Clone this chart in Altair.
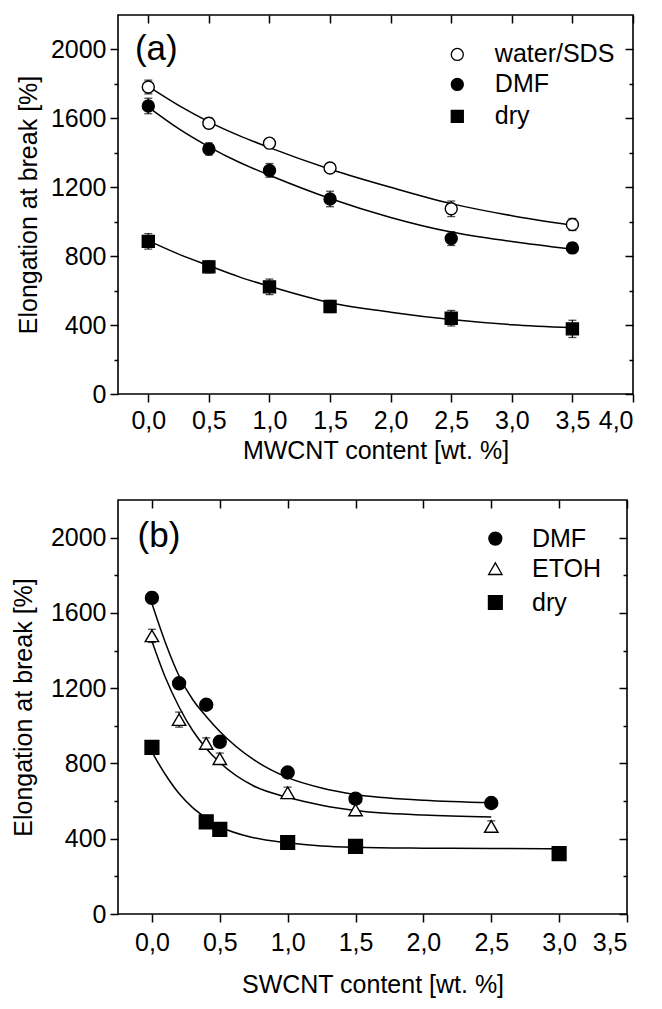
import altair as alt
import pandas as pd

FONT = "Liberation Sans"

# ---------------- Panel (a): MWCNT ----------------
a_series = ["water/SDS", "DMF", "dry"]
a_x = [0.0, 0.5, 1.0, 1.5, 2.5, 3.5]
a_water = [1782, 1572, 1456, 1312, 1075, 984]
a_water_err = [40, 30, 25, 25, 45, 35]
a_dmf = [1672, 1422, 1298, 1132, 902, 848]
a_dmf_err = [45, 35, 40, 45, 40, 30]
a_dry = [886, 738, 622, 508, 440, 378]
a_dry_err = [45, 35, 45, 35, 45, 50]

a_curve_x = [0.0, 0.25, 0.5, 0.75, 1.0, 1.5, 2.0, 2.5, 3.0, 3.5]
a_curve_water = [1785, 1675, 1580, 1500, 1430, 1305, 1200, 1105, 1035, 980]
a_curve_dmf = [1665, 1540, 1435, 1345, 1270, 1135, 1025, 940, 885, 840]
a_curve_dry = [890, 812, 745, 680, 625, 530, 475, 432, 402, 385]

# legend rows of (a), in data units of the panel
a_leg_sym_x = 2.55
a_leg_txt_x = 2.86
a_leg_y = [1971, 1797, 1612]

# ---------------- Panel (b): SWCNT ----------------
b_series = ["DMF", "ETOH", "dry"]
b_x = [0.0, 0.2, 0.4, 0.5, 1.0, 1.5, 2.5]
b_dmf = [1680, 1226, 1112, 915, 752, 613, 590]
b_dmf_err = [30, 25, 20, 20, 25, 25, 20]
b_etoh = [1478, 1033, 906, 825, 644, 553, 465]
b_etoh_err = [35, 40, 30, 30, 30, 30, 30]
b_dry_x = [0.0, 0.4, 0.5, 1.0, 1.5, 3.0]
b_dry = [885, 490, 450, 380, 359, 321]
b_dry_err = [20, 15, 15, 15, 15, 15]

b_curve_x = [0.0, 0.1, 0.2, 0.3, 0.4, 0.5, 0.75, 1.0, 1.25, 1.5, 2.0, 2.5]
b_curve_dmf = [1650, 1440, 1265, 1140, 1050, 970, 820, 725, 670, 635, 605, 592]
b_curve_etoh = [1450, 1255, 1100, 975, 880, 805, 680, 620, 578, 550, 526, 516]
b_curve_dry_x = [0.0, 0.1, 0.2, 0.3, 0.4, 0.5, 0.75, 1.0, 1.25, 1.5, 2.0, 2.5, 3.0]
b_curve_dry = [860, 740, 640, 565, 510, 465, 405, 378, 362, 355, 350, 348, 347]

b_leg_sym_x = 2.53
b_leg_txt_x = 2.80
b_leg_y = [1995, 1835, 1655]

a_xticks = [0.0, 0.5, 1.0, 1.5, 2.0, 2.5, 3.0, 3.5, 4.0]
b_xticks = [0.0, 0.5, 1.0, 1.5, 2.0, 2.5, 3.0, 3.5]
y_major = [0, 400, 800, 1200, 1600, 2000]
y_minor = [200, 600, 1000, 1400, 1800]


def points_df(series, xs_list, ys_list, errs_list):
    rows = []
    for s, xs, ys, es in zip(series, xs_list, ys_list, errs_list):
        for x, y, e in zip(xs, ys, es):
            rows.append({"series": s, "kind": s, "x": x, "y": y, "lo": y - e, "hi": y + e})
    return pd.DataFrame(rows)


def curve_df(series, xs_list, ys_list):
    rows = []
    for s, xs, ys in zip(series, xs_list, ys_list):
        for x, y in zip(xs, ys):
            rows.append({"series": s, "x": x, "y": y})
    return pd.DataFrame(rows)


LABEL_EXPR = "replace(format(datum.value, '.1f'), '.', ',')"


def panel(pts, crv, series, shapes, fills, sizes, leg_sizes, xdom, xticks, xtitle,
          width, height, ytitle_x, xtitle_y, xlabel_pad,
          leg_sym_x, leg_txt_x, leg_y, note, note_x, note_y):
    xs = alt.Scale(domain=xdom, nice=False, zero=False)
    ys = alt.Scale(domain=[0, 2200], nice=False, zero=False)
    shp = alt.Scale(domain=series, range=shapes)
    fil = alt.Scale(domain=series, range=fills)
    base = alt.Chart(pts).mark_point(opacity=0)

    main_axes = base.encode(
        x=alt.X("x:Q", scale=xs, axis=alt.Axis(
            orient="bottom", values=xticks, labelExpr=LABEL_EXPR, title=xtitle,
            tickSize=8, labelPadding=xlabel_pad, titleY=xtitle_y,
            titleBaseline="alphabetic")),
        y=alt.Y("y:Q", scale=ys, axis=alt.Axis(
            orient="left", values=y_major, format="d", title="Elongation at break [%]",
            tickSize=8, labelPadding=4, titleX=ytitle_x, titleBaseline="alphabetic")),
    )
    mirror_axes = base.encode(
        x=alt.X("x:Q", scale=xs, axis=alt.Axis(
            orient="top", values=xticks, labels=False, title=None, tickSize=8, offset=-8)),
        y=alt.Y("y:Q", scale=ys, axis=alt.Axis(
            orient="right", values=y_major, labels=False, title=None, tickSize=8, offset=-8)),
    )
    minor_left = base.encode(
        x=alt.X("x:Q", scale=xs, axis=None),
        y=alt.Y("y:Q", scale=ys, axis=alt.Axis(
            orient="left", values=y_minor, labels=False, title=None, tickSize=4)),
    )
    minor_right = base.encode(
        x=alt.X("x:Q", scale=xs, axis=None),
        y=alt.Y("y:Q", scale=ys, axis=alt.Axis(
            orient="right", values=y_minor, labels=False, title=None, tickSize=4, offset=-4)),
    )

    curves = alt.Chart(crv).mark_line(color="black", strokeWidth=1.5, interpolate="monotone").encode(
        x=alt.X("x:Q", scale=xs, axis=None),
        y=alt.Y("y:Q", scale=ys, axis=None),
        detail="series:N",
    )
    errs = alt.Chart(pts).mark_errorbar(ticks=True, size=8, thickness=1.3, color="black").encode(
        x=alt.X("x:Q", scale=xs, axis=None),
        y=alt.Y("lo:Q", scale=ys, axis=None),
        y2="hi:Q",
    )
    marks = alt.Chart(pts).mark_point(filled=True, stroke="black", strokeWidth=1.4, opacity=1).encode(
        x=alt.X("x:Q", scale=xs, axis=None),
        y=alt.Y("y:Q", scale=ys, axis=None),
        shape=alt.Shape("series:N", scale=shp, legend=None),
        fill=alt.Fill("series:N", scale=fil, legend=None),
        size=alt.Size("kind:N", scale=alt.Scale(domain=series, range=sizes), legend=None),
    )

    leg_df = pd.DataFrame({"series": series, "kind": series,
                           "sx": [leg_sym_x] * len(series),
                           "tx": [leg_txt_x] * len(series), "y": leg_y})
    leg_sym = alt.Chart(leg_df).mark_point(filled=True, stroke="black", strokeWidth=1.3,
                                           opacity=1).encode(
        x=alt.X("sx:Q", scale=xs, axis=None),
        y=alt.Y("y:Q", scale=ys, axis=None),
        shape=alt.Shape("series:N", scale=shp, legend=None),
        fill=alt.Fill("series:N", scale=fil, legend=None),
        size=alt.Size("kind:N", scale=alt.Scale(domain=series, range=leg_sizes), legend=None),
    )
    leg_txt = alt.Chart(leg_df).mark_text(align="left", baseline="middle", fontSize=25,
                                          color="black", font=FONT).encode(
        x=alt.X("tx:Q", scale=xs, axis=None),
        y=alt.Y("y:Q", scale=ys, axis=None),
        text="series:N",
    )

    note_df = pd.DataFrame({"x": [note_x], "y": [note_y], "t": [note]})
    label = alt.Chart(note_df).mark_text(align="left", baseline="alphabetic", fontSize=35,
                                         color="black", font=FONT).encode(
        x=alt.X("x:Q", scale=xs, axis=None),
        y=alt.Y("y:Q", scale=ys, axis=None),
        text="t:N",
    )
    return alt.layer(main_axes, mirror_axes, minor_left, minor_right,
                     curves, errs, marks, label).resolve_axis(
        x="independent", y="independent").properties(width=width, height=height), \
        alt.layer(leg_sym, leg_txt)


pts_a = points_df(a_series, [a_x, a_x, a_x], [a_water, a_dmf, a_dry],
                  [a_water_err, a_dmf_err, a_dry_err])
crv_a = curve_df(a_series, [a_curve_x] * 3, [a_curve_water, a_curve_dmf, a_curve_dry])
pts_b = points_df(b_series, [b_x, b_x, b_dry_x], [b_dmf, b_etoh, b_dry],
                  [b_dmf_err, b_etoh_err, b_dry_err])
crv_b = curve_df(b_series, [b_curve_x, b_curve_x, b_curve_dry_x],
                 [b_curve_dmf, b_curve_etoh, b_curve_dry])

body_a, leg_a = panel(pts_a, crv_a, a_series, ["circle", "circle", "square"],
                      ["white", "black", "black"], [144, 144, 144], [100, 110, 100],
                      [-0.25, 4.0], a_xticks, "MWCNT content [wt. %]", 515, 379,
                      -82, 64, 6, a_leg_sym_x, a_leg_txt_x, a_leg_y,
                      "(a)", -0.11, 1936)
body_b, leg_b = panel(pts_b, crv_b, b_series, ["circle", "triangle-up", "square"],
                      ["black", "white", "black"], [169, 190, 121], [170, 150, 130],
                      [-0.25, 3.5], b_xticks, "SWCNT content [wt. %]", 509, 414,
                      -87, 78, 8, b_leg_sym_x, b_leg_txt_x, b_leg_y,
                      "(b)", -0.106, 1952)

chart_a = alt.layer(body_a, leg_a)
chart_b = alt.layer(body_b, leg_b)

chart = alt.vconcat(chart_a, chart_b, spacing=34).resolve_scale(
    shape="independent", fill="independent", size="independent"
).properties(
    padding={"left": 2, "top": 5, "right": 5, "bottom": 5}
).configure(font=FONT).configure_view(
    stroke="black", strokeWidth=1.6
).configure_axis(
    labelFont=FONT, titleFont=FONT, labelFontSize=25, titleFontSize=25,
    labelColor="black", titleColor="black", tickColor="black", tickWidth=1.5,
    domain=False, grid=False, titleFontWeight="normal",
)

chart.save("out.html", embed_options={"renderer": "svg", "actions": False})
